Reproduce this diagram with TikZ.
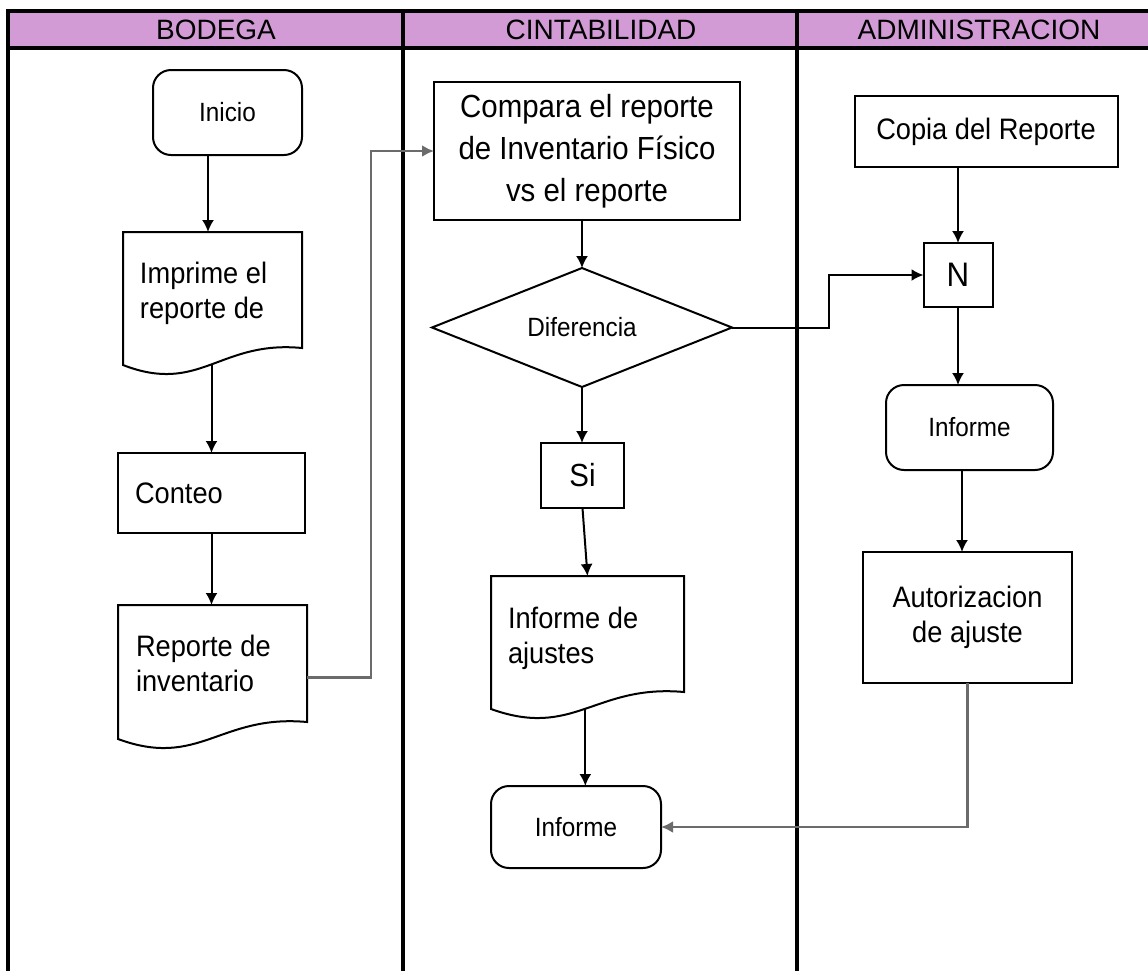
\documentclass[tikz,border=0pt]{standalone}
\usepackage{fontspec}
\setmainfont{Liberation Sans}
\newfontfamily\boxfont[FakeStretch=0.92]{Liberation Sans}
\usetikzlibrary{shapes.geometric,arrows.meta,fit}
\definecolor{lanehead}{RGB}{210,155,214}

% document symbol: name, left, top, right, bottom (pixel units)
\newcommand\docshape[5]{%
  \pgfmathsetmacro\dw{#4-#2}%
  \path (#2,#3) coordinate (#1-nw) (#4,#5) coordinate (#1-se);
  \node[fit=(#1-nw)(#1-se), inner sep=0pt] (#1) {};
  \draw[docline] (#2,#3) -- (#4,#3) -- (#4,{#5-28})
    .. controls ({#4-0.46*\dw},{#5-36}) and ({#4-0.57*\dw},{#5+19}) .. (#2,{#5-11})
    coordinate[pos=0.5] (#1-w) -- cycle;
}

\begin{document}
\begin{tikzpicture}[x=0.5pt,y=-0.5pt,
  every node/.style={inner sep=0pt, outer sep=0pt},
  txt/.style={font=\boxfont\fontsize{14.8}{17.5}\selectfont, align=center},
  txtl/.style={font=\boxfont\fontsize{14.8}{17.5}\selectfont, align=left},
  txtbig/.style={font=\boxfont\fontsize{16}{21}\selectfont, align=center},
  txtsmall/.style={font=\boxfont\fontsize{13.2}{15}\selectfont},
  headtxt/.style={font=\fontsize{14}{16}\selectfont},
  proc/.style={draw, line width=1pt, rectangle},
  term/.style={draw, line width=1pt, rectangle, rounded corners=9pt},
  decis/.style={draw, line width=1pt, diamond, aspect=2.52},
  docline/.style={line width=1pt},
  lane/.style={line width=1.8pt},
  flow/.style={line width=1pt, -{Latex[length=6pt,width=6pt]}},
  grayflow/.style={flow, line width=1.25pt, draw=black!58}
]
\useasboundingbox (0,0) rectangle (1148,971);

% swimlanes
\fill[lanehead] (8,11) rectangle (1148,48);
\draw[lane] (1148,11) -- (8,11) -- (8,971);
\draw[lane] (8,48) -- (1148,48);
\draw[lane] (403,11) -- (403,971);
\draw[lane] (797,11) -- (797,971);

\node[headtxt] (hbod) at (216,30) {BODEGA};
\node[headtxt] (hcon) at (601,30) {CINTABILIDAD};
\node[headtxt] (hadm) at (979,30) {ADMINISTRACION};

% BODEGA
\node[term, txtsmall, minimum width=74.5pt, minimum height=42.5pt] (inicio) at (227.5,112.5) {Inicio};
\docshape{imprime}{123}{232}{302}{376}
\node[txtl, anchor=north west] at ([xshift=8.5pt,yshift=-15pt]imprime.north west) {Imprime el\\reporte de};
\node[proc, txtl, text width=76.5pt, inner xsep=8.5pt, minimum height=40pt] (conteo) at (211.5,493) {Conteo};
\docshape{reporte}{118}{605}{307}{750}
\node[txtl, anchor=north west] at ([xshift=9pt,yshift=-15pt]reporte.north west) {Reporte de\\inventario};

% CINTABILIDAD
\node[proc, txtbig, minimum width=153pt, minimum height=69pt] (compara) at (587,151) {Compara el reporte\\de Inventario Físico\\vs el reporte};
\node[decis, txtsmall, minimum width=150pt, minimum height=59.5pt] (dif) at (582,327.5) {Diferencia};
\node[proc, txtbig, minimum width=41.5pt, minimum height=32.5pt] (si) at (582.5,475.5) {Si};
\docshape{ajustes}{491}{576}{684}{720}
\node[txtl, anchor=north west] at ([xshift=8.5pt,yshift=-15.5pt]ajustes.north west) {Informe de\\ajustes};
\node[term, txtsmall, minimum width=85pt, minimum height=41pt] (informeb) at (576,827) {Informe};

% ADMINISTRACION
\node[proc, txt, minimum width=131.5pt, minimum height=35.5pt] (copia) at (986,131.5) {Copia del Reporte};
\node[proc, font=\boxfont\fontsize{17}{18}\selectfont, minimum width=34.5pt, minimum height=32pt] (n) at (958,275) {N};
\node[term, txtsmall, minimum width=83.5pt, minimum height=42.5pt] (informea) at (969.5,427.5) {Informe};
\node[proc, txt, minimum width=104.5pt, minimum height=65.5pt] (autoriz) at (967.5,617.5) {Autorizacion\\de ajuste};

% connectors
\coordinate (colA) at (208,0);
\coordinate (jogA) at (371,0);
\coordinate (jogB) at (829,0);
\coordinate (colC) at (962,0);

\draw[flow] (colA |- inicio.south) -- (colA |- imprime.north);
\draw[flow] (imprime-w -| conteo.north) -- (conteo.north);
\draw[flow] (conteo.south) -- (conteo.south |- reporte.north);
\draw[grayflow] (reporte.east) -- (jogA |- reporte.east) |- (compara.west);
\draw[flow] (dif.north |- compara.south) -- (dif.north);
\draw[flow] (dif.south) -- (dif.south |- si.north);
\draw[flow] (si.south) -- (ajustes.north);
\draw[flow] (ajustes-w) -- (ajustes-w |- informeb.north);
\draw[flow] (n.north |- copia.south) -- (n.north);
\draw[flow] (dif.east) -- (jogB |- dif.east) |- (n.west);
\draw[flow] (n.south) -- (n.south |- informea.north);
\draw[flow] (colC |- informea.south) -- (colC |- autoriz.north);
\draw[grayflow] (autoriz.south) |- (informeb.east);
\end{tikzpicture}
\end{document}
